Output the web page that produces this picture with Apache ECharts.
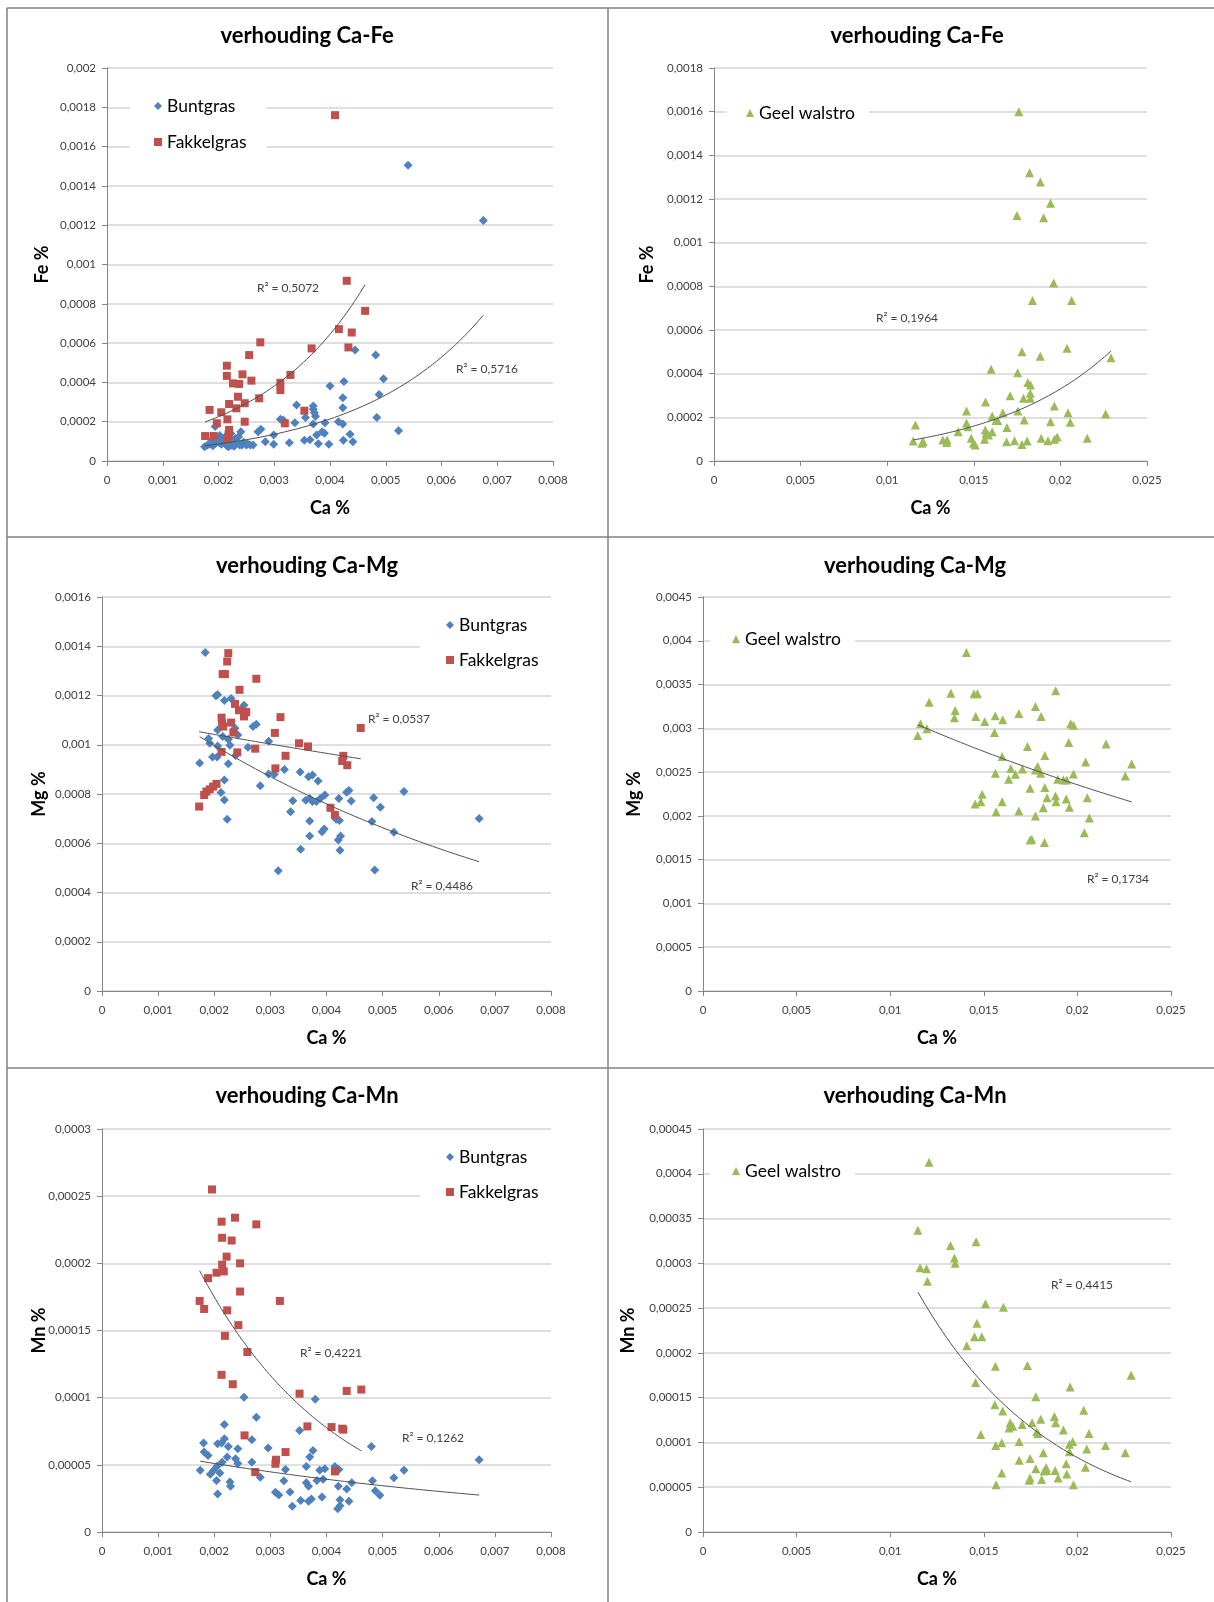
<!DOCTYPE html>
<html><head><meta charset="utf-8">
<script src="https://cdn.jsdelivr.net/npm/echarts@6/dist/echarts.min.js"></script>
<style>html,body{margin:0;padding:0;background:#fff}#c{width:1214px;height:1602px}</style>
</head><body><div id="c"></div>
<script>
// ---------- DATA (Ca %, element %) ----------
const feBunt = [[0.0054,0.001505],[0.00675,0.001224],[0.00445,0.000565],[0.00482,0.000539],[0.00425,0.000404],[0.00496,0.000419],[0.004,0.000382],[0.00423,0.000322],[0.00488,0.000339],[0.00423,0.000271],[0.0034,0.000285],[0.0037,0.00028],[0.0037,0.000263],[0.00372,0.000246],[0.00374,0.000228],[0.00356,0.000222],[0.00391,0.000195],[0.0037,0.000188],[0.00484,0.000222],[0.00415,0.0002],[0.00423,0.000188],[0.00311,0.000212],[0.00316,0.000209],[0.00337,0.000195],[0.00523,0.000154],[0.00386,0.000149],[0.0039,0.000141],[0.00376,0.000132],[0.00424,0.000105],[0.00436,0.000136],[0.00441,0.000098],[0.00398,0.000085],[0.00379,0.000088],[0.00354,0.000105],[0.00364,0.000108],[0.00327,0.000093],[0.00299,0.000085],[0.00299,0.000132],[0.00284,0.000098],[0.00271,0.000149],[0.00276,0.000161],[0.00257,0.000081],[0.00262,0.000081],[0.00242,0.000081],[0.0025,0.000081],[0.0024,0.000149],[0.0023,0.000115],[0.00236,0.000124],[0.00224,0.00008],[0.00228,0.000075],[0.00194,0.000175],[0.00175,0.000073],[0.0018,0.00008],[0.00185,0.000085],[0.0019,0.000078],[0.00195,0.00009],[0.002,0.000095],[0.00205,0.000085],[0.00208,0.000105],[0.00212,0.00009],[0.00215,0.000078],[0.00218,0.000072],[0.0022,0.000098],[0.00198,0.000112],[0.00202,0.00013],[0.00213,0.000125],[0.00225,0.000108],[0.00232,0.000088],[0.00238,0.000082],[0.00245,0.000095],[0.00252,0.000088],[0.00188,0.000105],[0.00222,0.00014]];
const feFakkel = [[0.00409,0.00176],[0.0043,0.000917],[0.00463,0.000764],[0.00416,0.000671],[0.00439,0.000654],[0.00433,0.000578],[0.00367,0.000573],[0.00275,0.000604],[0.00255,0.000539],[0.00215,0.000485],[0.00215,0.000433],[0.00243,0.000441],[0.00226,0.000395],[0.00237,0.000392],[0.00259,0.000409],[0.00235,0.000327],[0.00273,0.000319],[0.00219,0.00029],[0.00232,0.000268],[0.00247,0.000294],[0.00184,0.00026],[0.00205,0.000248],[0.00197,0.000192],[0.00216,0.000212],[0.00247,0.0002],[0.00176,0.000127],[0.00191,0.000127],[0.00219,0.000158],[0.00218,0.000135],[0.00216,0.000112],[0.00311,0.000398],[0.00311,0.000361],[0.00329,0.000438],[0.00354,0.000256],[0.00319,0.000192]];
const feGeel = [[0.0176,0.0016],[0.01822,0.00132],[0.01884,0.001278],[0.01943,0.00118],[0.01749,0.001124],[0.01903,0.001114],[0.01961,0.000815],[0.01839,0.000735],[0.02065,0.000735],[0.02038,0.000516],[0.01778,0.0005],[0.01884,0.00048],[0.02292,0.000473],[0.016,0.00042],[0.01753,0.000404],[0.01812,0.00036],[0.01828,0.000348],[0.0171,0.000299],[0.01787,0.000287],[0.01826,0.000287],[0.01826,0.00031],[0.01568,0.00027],[0.01965,0.000252],[0.01458,0.000229],[0.01668,0.000221],[0.01755,0.000229],[0.02044,0.000221],[0.02261,0.000215],[0.01606,0.000206],[0.01628,0.000186],[0.01638,0.000186],[0.01791,0.000188],[0.01943,0.00018],[0.02057,0.000177],[0.01163,0.000165],[0.01458,0.000174],[0.01466,0.000157],[0.01691,0.000153],[0.01566,0.000142],[0.01572,0.000127],[0.01606,0.000134],[0.01585,0.000119],[0.0141,0.000134],[0.01485,0.000104],[0.01562,0.0001],[0.01321,0.000096],[0.01346,0.000096],[0.01343,0.000085],[0.01208,0.000088],[0.012,0.000081],[0.0115,0.000092],[0.01498,0.000081],[0.01508,0.000073],[0.01689,0.000088],[0.01735,0.000093],[0.01778,0.000076],[0.01808,0.000092],[0.01889,0.000104],[0.01928,0.000093],[0.01966,0.0001],[0.01982,0.00011],[0.02155,0.000104]];
const mgBunt = [[0.00184,0.001375],[0.00203,0.001199],[0.00206,0.001203],[0.00218,0.00118],[0.0023,0.001188],[0.00253,0.00116],[0.00237,0.001067],[0.00242,0.00104],[0.00269,0.001074],[0.00275,0.001083],[0.00206,0.00106],[0.00215,0.001033],[0.00225,0.001022],[0.0019,0.001025],[0.00192,0.001006],[0.00228,0.000998],[0.00206,0.000995],[0.00238,0.000956],[0.00197,0.00095],[0.00205,0.00095],[0.0026,0.00099],[0.00297,0.001014],[0.00174,0.000926],[0.00225,0.000923],[0.00325,0.0009],[0.00297,0.000881],[0.00307,0.00088],[0.00218,0.000857],[0.00282,0.000834],[0.00353,0.000889],[0.00368,0.00087],[0.00375,0.000877],[0.00385,0.000853],[0.00212,0.000806],[0.00218,0.000776],[0.00223,0.000697],[0.0034,0.000773],[0.00363,0.000775],[0.0037,0.000782],[0.00375,0.00077],[0.00382,0.00077],[0.00389,0.000782],[0.00397,0.000796],[0.00422,0.000782],[0.00436,0.000807],[0.0044,0.000814],[0.00444,0.000772],[0.00484,0.000785],[0.00496,0.000746],[0.00538,0.00081],[0.00336,0.000728],[0.0037,0.00069],[0.00417,0.000697],[0.00423,0.000692],[0.00481,0.000688],[0.00672,0.000701],[0.0052,0.000645],[0.0037,0.000629],[0.00392,0.000647],[0.00396,0.000658],[0.00421,0.000613],[0.00425,0.000629],[0.00354,0.000576],[0.00424,0.000572],[0.00314,0.000488],[0.00486,0.000491]];
const mgFakkel = [[0.00225,0.001372],[0.00223,0.001338],[0.00219,0.001287],[0.00215,0.001287],[0.00275,0.001268],[0.00245,0.001223],[0.00237,0.001166],[0.00244,0.00114],[0.00254,0.00113],[0.00257,0.001133],[0.00253,0.001115],[0.00213,0.00111],[0.00214,0.001087],[0.0023,0.00109],[0.00216,0.001074],[0.00234,0.00105],[0.00318,0.001112],[0.00308,0.001048],[0.00461,0.001068],[0.00351,0.001006],[0.00367,0.000993],[0.00273,0.000984],[0.00327,0.000955],[0.0043,0.000955],[0.00428,0.000934],[0.00437,0.000917],[0.00213,0.000971],[0.00241,0.000969],[0.00309,0.000904],[0.00204,0.000841],[0.00198,0.00083],[0.00192,0.000819],[0.00186,0.00081],[0.00182,0.000796],[0.00173,0.000749],[0.00407,0.000744],[0.00415,0.000715]];
const mgGeel = [[0.01407,0.003867],[0.01324,0.003402],[0.01448,0.003394],[0.01466,0.003394],[0.01884,0.003429],[0.01208,0.003299],[0.01347,0.003204],[0.01343,0.00312],[0.01776,0.00325],[0.01457,0.003135],[0.01561,0.003143],[0.01601,0.003097],[0.01687,0.003169],[0.01806,0.003135],[0.01505,0.003078],[0.01162,0.003051],[0.01196,0.002994],[0.01964,0.003051],[0.01979,0.003036],[0.01557,0.002952],[0.01147,0.002918],[0.01954,0.002838],[0.02153,0.002822],[0.01733,0.002792],[0.01598,0.002677],[0.01826,0.002689],[0.02044,0.002616],[0.0229,0.002593],[0.01788,0.002563],[0.01776,0.002525],[0.01644,0.00254],[0.01706,0.002536],[0.01562,0.002487],[0.01669,0.002475],[0.01804,0.002487],[0.01979,0.002479],[0.01633,0.002418],[0.01895,0.002418],[0.01925,0.00241],[0.01943,0.00241],[0.02256,0.002456],[0.01747,0.002315],[0.01826,0.002323],[0.01491,0.002246],[0.01883,0.002227],[0.01838,0.002208],[0.02053,0.002208],[0.0194,0.002193],[0.01454,0.002136],[0.01484,0.002162],[0.01598,0.002162],[0.01886,0.002162],[0.01957,0.002098],[0.01818,0.002094],[0.01687,0.002056],[0.01566,0.002048],[0.01776,0.001998],[0.02064,0.001976],[0.02037,0.001808],[0.01747,0.001724],[0.01756,0.001732],[0.01824,0.001697]];
const mnBunt = [[0.00672,0.0000538],[0.00253,0.0001004],[0.0038,0.0000989],[0.00275,0.0000855],[0.00218,0.0000801],[0.00352,0.0000756],[0.00267,0.0000687],[0.00181,0.0000662],[0.00206,0.0000657],[0.00213,0.0000662],[0.00218,0.0000694],[0.00225,0.0000637],[0.00242,0.000062],[0.00296,0.0000625],[0.00376,0.0000607],[0.0048,0.0000637],[0.00182,0.0000595],[0.00189,0.000057],[0.0037,0.0000558],[0.00223,0.0000558],[0.00238,0.0000545],[0.00214,0.000052],[0.00242,0.000051],[0.00267,0.000052],[0.00205,0.000049],[0.00199,0.000046],[0.00193,0.000043],[0.0021,0.000044],[0.00175,0.0000459],[0.00364,0.0000488],[0.00415,0.0000488],[0.00422,0.0000466],[0.00327,0.0000466],[0.00388,0.0000459],[0.00397,0.0000471],[0.00538,0.0000459],[0.00282,0.0000407],[0.0052,0.0000404],[0.00324,0.0000382],[0.00482,0.0000382],[0.00228,0.0000372],[0.00229,0.000034],[0.00204,0.0000384],[0.00364,0.0000367],[0.00368,0.000034],[0.00383,0.0000384],[0.00394,0.0000392],[0.00445,0.0000367],[0.00421,0.000034],[0.00436,0.000032],[0.00335,0.0000297],[0.00309,0.0000295],[0.00315,0.0000275],[0.00487,0.0000307],[0.00495,0.0000273],[0.00206,0.0000283],[0.00392,0.000026],[0.00354,0.0000235],[0.00368,0.0000228],[0.00373,0.0000245],[0.00424,0.000024],[0.0044,0.0000228],[0.00339,0.0000191],[0.0042,0.0000174],[0.00424,0.0000196]];
const mnFakkel = [[0.00196,0.000255],[0.00213,0.000231],[0.00237,0.000234],[0.00275,0.000229],[0.00214,0.000219],[0.00231,0.000217],[0.00222,0.000205],[0.00214,0.000199],[0.00217,0.000194],[0.00246,0.0002],[0.00204,0.000193],[0.00189,0.000189],[0.00246,0.000179],[0.00174,0.000172],[0.00317,0.000172],[0.00182,0.000166],[0.00223,0.000165],[0.00243,0.000154],[0.00219,0.000146],[0.00259,0.000134],[0.00213,0.000117],[0.00233,0.00011],[0.00352,0.000103],[0.00436,0.000105],[0.00462,0.000106],[0.00366,0.0000786],[0.00409,0.0000781],[0.00428,0.0000769],[0.0043,0.0000762],[0.00254,0.0000719],[0.00327,0.0000595],[0.0031,0.0000538],[0.00309,0.0000508],[0.00273,0.0000446],[0.00415,0.0000451]];
const mnGeel = [[0.01208,0.000413],[0.01148,0.000337],[0.01322,0.00032],[0.01459,0.000324],[0.01343,0.000306],[0.01347,0.0003],[0.0116,0.000295],[0.01194,0.000294],[0.01199,0.00028],[0.01509,0.000255],[0.01605,0.000251],[0.01463,0.000233],[0.0145,0.000218],[0.01489,0.000218],[0.01409,0.000208],[0.01562,0.000185],[0.01733,0.000186],[0.02287,0.000175],[0.01456,0.000167],[0.01961,0.000162],[0.01778,0.000151],[0.01559,0.000142],[0.01601,0.000135],[0.02034,0.000136],[0.01877,0.000129],[0.01884,0.000122],[0.01804,0.000126],[0.01641,0.000122],[0.01655,0.000118],[0.01635,0.000116],[0.01705,0.00012],[0.01758,0.000122],[0.01783,0.000112],[0.0179,0.00011],[0.01925,0.000114],[0.02062,0.00011],[0.01484,0.000109],[0.01975,0.000101],[0.01957,0.000098],[0.01689,0.000101],[0.01596,0.0000996],[0.01564,0.0000966],[0.0215,0.0000966],[0.0205,0.0000928],[0.02256,0.0000884],[0.01818,0.0000884],[0.01957,0.0000895],[0.01689,0.0000802],[0.01747,0.000082],[0.0194,0.0000761],[0.02043,0.0000723],[0.01778,0.0000705],[0.01833,0.000072],[0.01822,0.000068],[0.01836,0.0000686],[0.01881,0.0000686],[0.01596,0.000066],[0.01943,0.0000649],[0.01747,0.0000604],[0.01742,0.0000578],[0.01809,0.0000585],[0.01897,0.0000604],[0.01566,0.0000529],[0.01979,0.0000529]];

// tick labels
const xTicksGras = ['0','0,001','0,002','0,003','0,004','0,005','0,006','0,007','0,008'];
const xTicksGeel = ['0','0,005','0,01','0,015','0,02','0,025'];
const yTicksFeGras = ['0','0,0002','0,0004','0,0006','0,0008','0,001','0,0012','0,0014','0,0016','0,0018','0,002'];
const yTicksFeGeel = ['0','0,0002','0,0004','0,0006','0,0008','0,001','0,0012','0,0014','0,0016','0,0018'];
const yTicksMgGras = ['0','0,0002','0,0004','0,0006','0,0008','0,001','0,0012','0,0014','0,0016'];
const yTicksMgGeel = ['0','0,0005','0,001','0,0015','0,002','0,0025','0,003','0,0035','0,004','0,0045'];
const yTicksMnGras = ['0','0,00005','0,0001','0,00015','0,0002','0,00025','0,0003'];
const yTicksMnGeel = ['0','0,00005','0,0001','0,00015','0,0002','0,00025','0,0003','0,00035','0,0004','0,00045'];
const titles = ['verhouding Ca-Fe','verhouding Ca-Fe','verhouding Ca-Mg','verhouding Ca-Mg','verhouding Ca-Mn','verhouding Ca-Mn'];
const yNames = ['Fe %','Fe %','Mg %','Mg %','Mn %','Mn %'];
const r2Texts = ['R² = 0,5072','R² = 0,5716','R² = 0,1964','R² = 0,0537','R² = 0,4486','R² = 0,1734','R² = 0,4221','R² = 0,1262','R² = 0,4415'];

// ---------- layout ----------
const FONT = 'Lato, "Open Sans", "Liberation Sans", sans-serif';
const BLUE = '#4F81BD', RED = '#C0504D', GREEN = '#9BBB59';
const grids = [
  {left:107, top:68,  width:446, height:393},
  {left:714, top:68,  width:433, height:393},
  {left:102, top:597, width:449, height:394},
  {left:703, top:597, width:468, height:394},
  {left:102, top:1129,width:449, height:403},
  {left:703, top:1129,width:468, height:403}
];
const axCfg = [
  {xMax:0.008, xInt:0.001, xT:xTicksGras, yMax:0.002,  yInt:0.0002,  yT:yTicksFeGras, yGap:56},
  {xMax:0.025, xInt:0.005, xT:xTicksGeel, yMax:0.0018, yInt:0.0002,  yT:yTicksFeGeel, yGap:58},
  {xMax:0.008, xInt:0.001, xT:xTicksGras, yMax:0.0016, yInt:0.0002,  yT:yTicksMgGras, yGap:54},
  {xMax:0.025, xInt:0.005, xT:xTicksGeel, yMax:0.0045, yInt:0.0005,  yT:yTicksMgGeel, yGap:60},
  {xMax:0.008, xInt:0.001, xT:xTicksGras, yMax:0.0003, yInt:0.00005, yT:yTicksMnGras, yGap:54},
  {xMax:0.025, xInt:0.005, xT:xTicksGeel, yMax:0.00045,yInt:0.00005, yT:yTicksMnGeel, yGap:66}
];
const titlePos = [[307,36],[917,36],[307,566],[915,566],[307,1096],[915,1096]];
const r2Pos = [[288,288],[487,369],[907,318],[399,719],[442,886],[1118,879],[331,1353],[433,1438],[1082,1285]];

function expFit(pts){
  let n=pts.length,sx=0,sy=0,sxx=0,sxy=0;
  for(const [x,y] of pts){const ly=Math.log(y);sx+=x;sy+=ly;sxx+=x*x;sxy+=x*ly;}
  const b=(n*sxy-sx*sy)/(n*sxx-sx*sx), a=(sy-b*sx)/n;
  const xs=pts.map(p=>p[0]); const x0=Math.min(...xs), x1=Math.max(...xs);
  const out=[]; for(let i=0;i<=60;i++){const x=x0+(x1-x0)*i/60; out.push([x,Math.exp(a+b*x)]);}
  return out;
}

const axisLineStyle = {color:'#868686', width:1};
const xAxes = axCfg.map((c,i)=>({
  type:'value', gridIndex:i, min:0, max:c.xMax, interval:c.xInt,
  axisLine:{show:true,onZero:false,lineStyle:axisLineStyle},
  axisTick:{show:true,length:5,lineStyle:axisLineStyle},
  splitLine:{show:false},
  axisLabel:{fontFamily:FONT,fontSize:11.5,color:'#404040',margin:13,
    formatter:(v)=>c.xT[Math.round(v/c.xInt)] ?? String(v).replace('.',',')},
  name:'Ca %', nameLocation:'middle', nameGap:38, nameMoveOverlap:false,
  nameTextStyle:{fontFamily:FONT,fontSize:18,fontWeight:'bold',color:'#000'}
}));
const yAxes = axCfg.map((c,i)=>({
  type:'value', gridIndex:i, min:0, max:c.yMax, interval:c.yInt,
  axisLine:{show:true,onZero:false,lineStyle:axisLineStyle},
  axisTick:{show:true,length:5,lineStyle:axisLineStyle},
  splitLine:{show:true,lineStyle:{color:'#d4d4d4',width:1.5}},
  axisLabel:{fontFamily:FONT,fontSize:11.5,color:'#404040',margin:11,
    formatter:(v)=>c.yT[Math.round(v/c.yInt)] ?? String(v).replace('.',',')},
  name:yNames[i], nameLocation:'middle', nameGap:c.yGap, nameRotate:90, nameMoveOverlap:false,
  nameTextStyle:{fontFamily:FONT,fontSize:18,fontWeight:'bold',color:'#000'}
}));

function scat(name,data,i,symbol,size,color){
  return {type:'scatter',name,data,xAxisIndex:i,yAxisIndex:i,symbol,symbolSize:size,
    itemStyle:{color,opacity:1},z:3,silent:true};
}
function trend(data,i){
  return {type:'line',name:'trend'+i,data:expFit(data),xAxisIndex:i,yAxisIndex:i,showSymbol:false,
    symbol:'none',lineStyle:{color:'#505050',width:1},z:4,silent:true};
}
const series = [
  scat('Buntgras',feBunt,0,'diamond',9,BLUE), scat('Fakkelgras',feFakkel,0,'rect',8,RED),
  trend(feFakkel,0), trend(feBunt,0),
  scat('Geel walstro',feGeel,1,'triangle',9,GREEN), trend(feGeel,1),
  scat('Buntgras',mgBunt,2,'diamond',9,BLUE), scat('Fakkelgras',mgFakkel,2,'rect',8,RED),
  trend(mgFakkel,2), trend(mgBunt,2),
  scat('Geel walstro',mgGeel,3,'triangle',9,GREEN), trend(mgGeel,3),
  scat('Buntgras',mnBunt,4,'diamond',9,BLUE), scat('Fakkelgras',mnFakkel,4,'rect',8,RED),
  trend(mnFakkel,4), trend(mnBunt,4),
  scat('Geel walstro',mnGeel,5,'triangle',9,GREEN), trend(mnGeel,5)
];

const legStyle = {fontFamily:FONT,fontSize:17.5,color:'#000'};
const grasLeg = [{name:'Buntgras',icon:'diamond'},{name:'Fakkelgras',icon:'rect'}];
const geelLeg = [{name:'Geel walstro',icon:'triangle'}];
function leg(data,left,top,pad,gap){
  return {data,left,top,orient:'vertical',padding:pad,itemGap:gap,itemWidth:8,itemHeight:8,
    backgroundColor:'#fff',textStyle:legStyle,selectedMode:false,z:5};
}
const legends = [
  leg(grasLeg,130,89,[8,20,8,24],18),
  leg(geelLeg,726,99,[5,14,5,20],10),
  leg(grasLeg,420,609,[7,40,7,26],17),
  leg(geelLeg,710,625,[5,14,5,22],10),
  leg(grasLeg,420,1141,[7,40,7,26],17),
  leg(geelLeg,710,1157,[5,14,5,22],10)
];

const graphic = [];
const bc = '#808080';
[[7,8,1214,8],[7,8,7,1602],[608,8,608,1602],[7,537,1214,537],[7,1068,1214,1068]].forEach(l=>{
  graphic.push({type:'line',shape:{x1:l[0],y1:l[1],x2:l[2],y2:l[3]},style:{stroke:bc,lineWidth:1.5},z:10,silent:true});
});
titles.forEach((t,i)=>graphic.push({type:'text',x:titlePos[i][0],y:titlePos[i][1],silent:true,
  style:{text:t,font:'bold 22px '+FONT,fill:'#000',textAlign:'center',textVerticalAlign:'middle'}}));
r2Texts.forEach((t,i)=>graphic.push({type:'text',x:r2Pos[i][0],y:r2Pos[i][1],silent:true,z:6,
  style:{text:t,font:'12px '+FONT,fill:'#404040',textAlign:'center',textVerticalAlign:'middle'}}));

const chart = echarts.init(document.getElementById('c'),null,{renderer:'canvas'});
chart.setOption({animation:false,backgroundColor:'#fff',grid:grids,xAxis:xAxes,yAxis:yAxes,
  legend:legends,series,graphic});
</script></body></html>
